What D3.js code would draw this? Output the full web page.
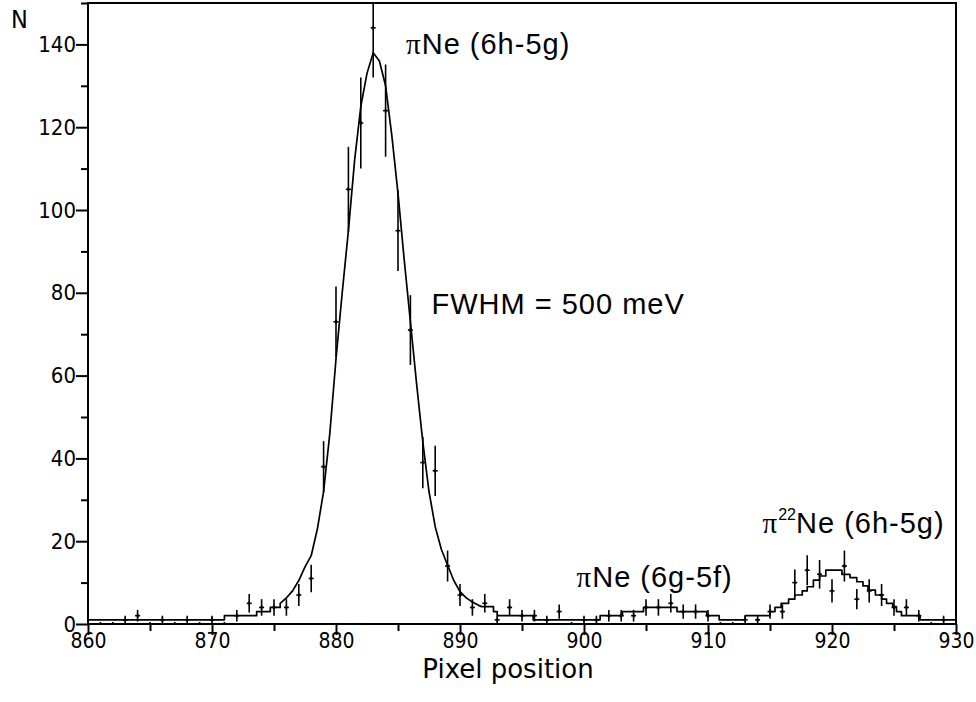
<!DOCTYPE html>
<html><head><meta charset="utf-8">
<script src="https://cdn.jsdelivr.net/npm/d3@7"></script>
<style>body{margin:0;background:#fff}</style>
</head><body><svg id="c" width="976" height="702"></svg>
<script>
// ---- data ----
const pixel = [861,862,863,864,865,866,867,868,869,870,871,872,873,874,875,876,877,878,879,880,
  881,882,883,884,885,886,887,888,889,890,891,892,893,894,895,896,897,898,899,900,
  901,902,903,904,905,906,907,908,909,910,911,912,913,914,915,916,917,918,919,920,
  921,922,923,924,925,926,927,928,929];
const counts = [0,0,1,2,0,1,0,1,0,1,0,2,5,4,4,4,7,11,38,73,
  105,121,144,124,95,71,39,37,14,7,4,5,1,4,2,2,1,3,0,1,
  1,2,2,2,4,4,5,3,3,2,0,0,1,1,3,3,10,13,12,8,
  14,6,8,7,4,4,2,0,1];
const errors = [0,0,1,1.41,0,1,0,1,0,1,0,1.41,2.24,2,2,2,2.65,3.32,6.16,8.54,
  10.25,11,12,11.14,9.75,8.43,6.24,6.08,3.74,2.65,2,2.24,1,2,1.41,1.41,1,1.73,0,1,
  1,1.41,1.41,1.41,2,2,2.24,1.73,1.73,1.41,0,0,1,1,1.73,1.73,3.16,3.61,3.46,2.83,
  3.74,2.45,2.83,2.65,2,2,1.41,0,1];

// fit: step histogram (left), smooth main peak, step histogram (right)
const fitLeftEdges = [860, 871, 873.6, 874.7, 875.5];
const fitLeftLevels = [1, 2, 3, 4];
const fitPeakX = [875.5,876,876.5,877,877.5,878,878.5,879,879.5,880,880.5,881,881.5,882,882.5,883,
  883.5,884,884.5,885,885.5,886,886.5,887,887.5,888,888.5,889,889.5,890,890.5,891,891.5,891.75];
const fitPeakY = [5,6.3,8,10.5,13.8,16.5,23,32,46,64,80,95,112,125,133,138,
  136,130,118,104,88,73,58,44,32,23.5,18,14.2,10.5,7.8,6.3,5.3,4.5,4.2];
const fitRightEdges = [891.75,892.7,893,895.9,901.3,903.1,904.8,907.5,909.9,910.9,913,915,915.4,915.9,
  916.5,917,917.6,918,918.5,919,919.5,920.8,921.45,922,922.5,922.9,923.5,924,924.4,924.9,925.2,925.6,927.1,930];
const fitRightLevels = [4.2,3,2,1,2,3,4,3,2,1,2,3,4,5,6,7,8,9,10.6,11.6,13,12,11.2,10.2,9.2,8.2,7,6,5,4.2,3,2,1];

const xMajorTicks = [860,870,880,890,900,910,920,930];
const xMinorTicks = [865,875,885,895,905,915,925];
const yMajorTicks = [0,20,40,60,80,100,120,140];
const yMinorTicks = [10,30,50,70,90,110,130,150];

// ---- drawing ----
const svg = d3.select('#c');
const L = 88, R = 956, T = 3, B = 624;
const x = d3.scaleLinear().domain([860, 930]).range([L, R]);
const y = d3.scaleLinear().domain([0, 150]).range([B, T]);
const tickFont = "'DejaVu Sans Condensed','DejaVu Sans',sans-serif";

svg.append('defs').append('clipPath').attr('id','clip')
  .append('rect').attr('x', L).attr('y', T).attr('width', R - L).attr('height', B - T);

// fit curve
const pts = [];
fitLeftLevels.forEach((v, i) => { pts.push([fitLeftEdges[i], v], [fitLeftEdges[i+1], v]); });
fitPeakX.forEach((v, i) => pts.push([v, fitPeakY[i]]));
fitRightLevels.forEach((v, i) => { pts.push([fitRightEdges[i], v], [fitRightEdges[i+1], v]); });
const line = d3.line().x(d => x(d[0])).y(d => y(d[1]));
const plot = svg.append('g').attr('clip-path', 'url(#clip)');
plot.append('path').attr('d', line(pts)).attr('fill', 'none')
  .attr('stroke', '#000').attr('stroke-width', 1.7).attr('stroke-linejoin', 'round');

// data points with error bars
const pg = plot.append('g').attr('stroke', '#000').attr('stroke-width', 1.6);
pixel.forEach((p, i) => {
  const cx = x(p), n = counts[i], e = errors[i];
  if (e > 0) pg.append('line').attr('x1', cx).attr('x2', cx).attr('y1', y(n - e)).attr('y2', y(n + e));
  pg.append('line').attr('x1', cx - 2.5).attr('x2', cx + 2.5).attr('y1', y(n)).attr('y2', y(n));
  pg.append('line').attr('x1', cx).attr('x2', cx).attr('y1', y(n) - 2).attr('y2', y(n) + 2);
});

// frame
svg.append('rect').attr('x', L).attr('y', T).attr('width', R - L).attr('height', B - T)
  .attr('fill', 'none').attr('stroke', '#000').attr('stroke-width', 2);

// axes
function styleAxis(g, size) {
  g.select('.domain').remove();
  g.selectAll('line').attr('stroke', '#000').attr('stroke-width', 2);
  g.selectAll('text').attr('font-family', tickFont).attr('font-size', size).attr('fill', '#000');
}
svg.append('g').attr('transform', `translate(${L},0)`)
  .call(d3.axisLeft(y).tickValues(yMajorTicks).tickSize(12).tickPadding(0).tickFormat(d3.format('d')))
  .call(styleAxis, 22);
svg.append('g').attr('transform', `translate(${L},0)`)
  .call(d3.axisLeft(y).tickValues(yMinorTicks).tickSize(7).tickFormat(''))
  .call(styleAxis, 22);
svg.append('g').attr('transform', `translate(0,${B})`)
  .call(d3.axisBottom(x).tickValues(xMajorTicks).tickSize(11).tickPadding(-2).tickFormat(d3.format('d')))
  .call(styleAxis, 21);
svg.append('g').attr('transform', `translate(0,${B})`)
  .call(d3.axisBottom(x).tickValues(xMinorTicks).tickSize(7).tickFormat(''))
  .call(styleAxis, 21);

// axis titles
svg.append('text').attr('x', 11).attr('y', 28).text('N')
  .attr('font-family', tickFont).attr('font-size', 25);
svg.append('text').attr('x', 508).attr('y', 678).attr('text-anchor', 'middle')
  .text('Pixel position').attr('font-family', "'DejaVu Sans',sans-serif").attr('font-size', 26);

// annotations
const annFont = "'Liberation Sans',Arial,sans-serif";
function label(xv, yv, parts) {
  const t = svg.append('text').attr('x', x(xv)).attr('y', y(yv))
    .attr('font-family', annFont).attr('font-size', 29).attr('letter-spacing', 1).attr('fill', '#000');
  parts.forEach(p => {
    const s = t.append('tspan').text(p.t);
    if (p.serif) s.attr('font-family', "'Liberation Serif','DejaVu Serif',serif");
    if (p.sup) s.attr('font-size', 16).attr('dy', -13).attr('letter-spacing', 0);
    if (p.down) s.attr('dy', 13);
  });
}
label(885.65, 137.8, [{t: 'π', serif: true}, {t: 'Ne (6h-5g)'}]);
label(887.7, 74.8, [{t: 'FWHM = 500 meV'}]);
label(899.4, 9, [{t: 'π', serif: true}, {t: 'Ne (6g-5f)'}]);
label(914.4, 22, [{t: 'π', serif: true}, {t: '22', sup: true}, {t: 'Ne (6h-5g)', down: true}]);
</script></body></html>
